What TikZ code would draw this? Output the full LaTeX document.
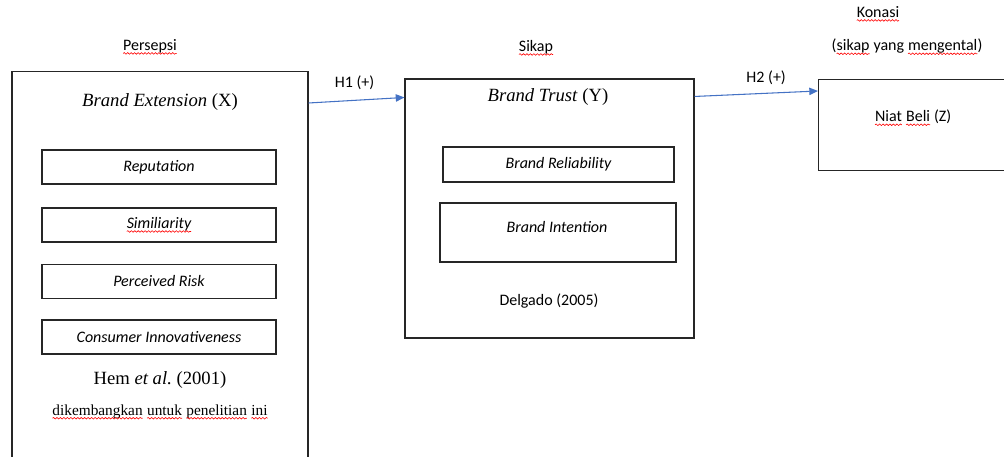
\documentclass[tikz,border=0pt]{standalone}
\usepackage{fontspec}
\setmainfont{Liberation Serif}
\newfontfamily\calibri{Carlito}
\usepackage{xcolor}
\usetikzlibrary{arrows.meta,decorations.pathmorphing}

\definecolor{arrowblue}{RGB}{68,114,196}
\definecolor{boxline}{RGB}{38,38,38}

% red wavy underline (spell check marks)
\newcommand\spellchk[1]{\tikz[baseline=(w.base)]{%
  \node[draw=none,inner sep=0pt,outer sep=0pt,minimum width=0pt,minimum height=0pt] (w) {#1};
  \draw[red,line width=0.45pt,decorate,decoration={snake,amplitude=0.6pt,segment length=2.6pt}]
    ([yshift=-2.2pt]w.base west) -- ([yshift=-2.2pt]w.base east);}}

\begin{document}
\begin{tikzpicture}[x=0.75pt,y=0.75pt,>=Triangle,
  box/.style={draw=boxline,line width=0.8pt,inner sep=0pt},
  item/.style={box,minimum width=175.5pt,minimum height=25.5pt,font=\calibri\fontsize{12}{14}\selectfont\itshape},
  lbl/.style={font=\calibri\fontsize{12}{14}\selectfont},
  ttl/.style={font=\fontsize{14}{16}\selectfont},
  link/.style={draw=arrowblue,line width=0.8pt,-{Triangle[length=6.5pt,width=5.5pt]}}]

\useasboundingbox (0,0) rectangle (1004,457);
\clip (0,0) rectangle (1004,457);

% Persepsi
\node[lbl] (persepsi) at (150,410) {\spellchk{Persepsi}};
\node[box,minimum width=222pt,minimum height=315pt,anchor=north] (xbox) at (160,386) {};
\node[ttl] (xtitle) at (160,355) {\textit{Brand Extension} (X)};

\node[item] (reput) at (159,290) {Reputation};
\node[item] (simil) at (159,232) {\spellchk{Similiarity}};
\node[item] (risk) at (159,175.5) {Perceived Risk};
\node[item] (innov) at (159,120) {Consumer Innovativeness};

\node[ttl] (hem) at (160,77) {Hem \textit{et al.}\ (2001)};
\node[font=\fontsize{11.5}{13}\selectfont] (dikemb) at (160,45)
  {\spellchk{dikembangkan} \spellchk{untuk} \spellchk{penelitian} \spellchk{ini}};

% Sikap
\node[lbl] (sikap) at (536,409) {\spellchk{Sikap}};
\node[box,minimum width=216.75pt,minimum height=194.25pt] (ybox) at (549.5,248.5) {};
\node[ttl] (ytitle) at (548,360) {\textit{Brand Trust} (Y)};

\node[item,minimum width=173.25pt,minimum height=26.25pt] (reliab) at (558.5,292.5) {Brand Reliability};
\node[box,minimum width=177pt,minimum height=44.25pt] (intent) at (558,224.5) {};
\node[lbl,font=\calibri\fontsize{12}{14}\selectfont\itshape] (intenttxt) at (557,230) {Brand Intention};

\node[lbl] (delgado) at (549,156) {Delgado (2005)};

% Konasi
\node[lbl] (konasi) at (878,443) {\spellchk{Konasi}};
\node[lbl] (konasisub) at (907,410) {(\spellchk{sikap} yang \spellchk{mengental})};
\node[box,minimum width=150pt,minimum height=68.25pt,anchor=north west] (zbox) at (818,378) {};
\node[lbl] (niat) at (913,339) {\spellchk{Niat} \spellchk{Beli} (Z)};

% hypotheses
\draw[link] ([yshift=-24pt]xbox.north east) -- node[lbl,above=4pt,pos=0.48] (h1) {H1 (+)} ([yshift=-14.25pt]ybox.north west);
\draw[link] ([yshift=-13.5pt]ybox.north east) -- node[lbl,above=3pt,pos=0.58] (h2) {H2 (+)} ([yshift=-9pt]zbox.north west);

\end{tikzpicture}
\end{document}
